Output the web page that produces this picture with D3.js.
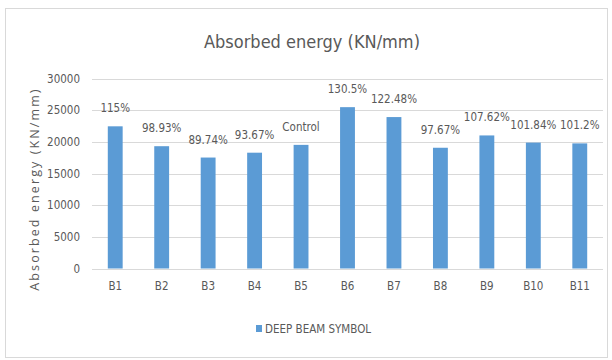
<!DOCTYPE html>
<html>
<head>
<meta charset="utf-8">
<script src="https://cdn.jsdelivr.net/npm/d3@7"></script>
<style>
  html, body { margin: 0; padding: 0; background: #fff; }
  svg { display: block; }
  text { fill: #595959; }
  .narrow { font-family: "Liberation Sans Narrow", "DejaVu Sans Condensed", "Roboto Condensed", sans-serif; font-stretch: condensed; }
</style>
</head>
<body>
<svg id="chart" width="612" height="360"></svg>
<script>
// Beam labels along the x axis
const categories = ["B1", "B2", "B3", "B4", "B5", "B6", "B7", "B8", "B9", "B10", "B11"];
// Absorbed energy for each deep beam (KN/mm)
const energy = [22450, 19310, 17520, 18285, 19520, 25475, 23910, 19065, 21010, 19880, 19755];
// Text shown above each bar (ratio to the control beam B5)
const barLabels = ["115%", "98.93%", "89.74%", "93.67%", "Control", "130.5%", "122.48%", "97.67%", "107.62%", "101.84%", "101.2%"];
const yTicks = [0, 5000, 10000, 15000, 20000, 25000, 30000];
const seriesName = "DEEP BEAM SYMBOL";
const chartTitle = "Absorbed energy (KN/mm)";
const yTitle = "Absorbed energy (KN/mm)";

const svg = d3.select("#chart");
const barColor = "#5B9BD5";

// Chart area frame
svg.append("rect")
  .attr("x", 5.5).attr("y", 8.5)
  .attr("width", 602).attr("height", 349)
  .attr("fill", "#fff")
  .attr("stroke", "#D9D9D9")
  .attr("stroke-width", 1);

const plot = { left: 92, right: 603, top: 78.5, bottom: 268.5 };

const x = d3.scaleBand()
  .domain(categories)
  .range([plot.left, plot.right])
  .paddingInner(0.68)
  .paddingOuter(0.34);

const y = d3.scaleLinear()
  .domain([0, 30000])
  .range([plot.bottom, plot.top]);

// Horizontal gridlines
svg.append("g")
  .selectAll("line")
  .data(yTicks)
  .join("line")
  .attr("x1", plot.left).attr("x2", plot.right)
  .attr("y1", d => Math.round(y(d)) + 0.5)
  .attr("y2", d => Math.round(y(d)) + 0.5)
  .attr("stroke", "#D9D9D9")
  .attr("stroke-width", 1);

// Y axis tick labels
const yAxis = d3.axisLeft(y).tickValues(yTicks).tickFormat(d3.format("d")).tickSize(0).tickPadding(12);
const yg = svg.append("g")
  .attr("transform", `translate(${plot.left},0)`)
  .call(yAxis)
  .attr("font-family", null);
yg.select(".domain").remove();
yg.selectAll("text")
  .attr("class", "narrow")
  .style("font-size", "11.5px")
  .attr("fill", "#595959");

// X axis labels
const xAxis = d3.axisBottom(x).tickSize(0).tickPadding(13);
const xg = svg.append("g")
  .attr("transform", `translate(0,${plot.bottom})`)
  .call(xAxis)
  .attr("font-family", null);
xg.select(".domain").remove();
xg.selectAll("text")
  .attr("class", "narrow")
  .style("font-size", "11.5px")
  .attr("fill", "#595959");

// Bars
const data = categories.map((c, i) => ({ c, v: energy[i], label: barLabels[i] }));
svg.append("g")
  .selectAll("rect")
  .data(data)
  .join("rect")
  .attr("x", d => x(d.c))
  .attr("width", x.bandwidth())
  .attr("y", d => y(d.v))
  .attr("height", d => y(0) - y(d.v))
  .attr("fill", barColor);

// Labels above bars
svg.append("g")
  .selectAll("text")
  .data(data)
  .join("text")
  .attr("class", "narrow")
  .attr("x", d => x(d.c) + x.bandwidth() / 2)
  .attr("y", d => y(d.v) - 14)
  .attr("text-anchor", "middle")
  .style("font-size", "11.5px")
  .text(d => d.label);

// Title
svg.append("text")
  .attr("class", "narrow")
  .attr("x", 312)
  .attr("y", 48)
  .attr("text-anchor", "middle")
  .style("font-size", "18px")
  .text(chartTitle);

// Y axis title
svg.append("text")
  .attr("transform", `translate(39,189) rotate(-90)`)
  .attr("text-anchor", "middle")
  .style("font-family", "'Open Sans', sans-serif")
  .style("font-size", "12.5px")
  .style("letter-spacing", "2.1px")
  .text(yTitle);

// Legend
const legend = svg.append("g").attr("transform", "translate(256,325)");
legend.append("rect")
  .attr("width", 6).attr("height", 7)
  .attr("fill", barColor);
legend.append("text")
  .attr("class", "narrow")
  .attr("x", 9).attr("y", 7.5)
  .style("font-size", "11.5px")
  .text(seriesName);
</script>
</body>
</html>
